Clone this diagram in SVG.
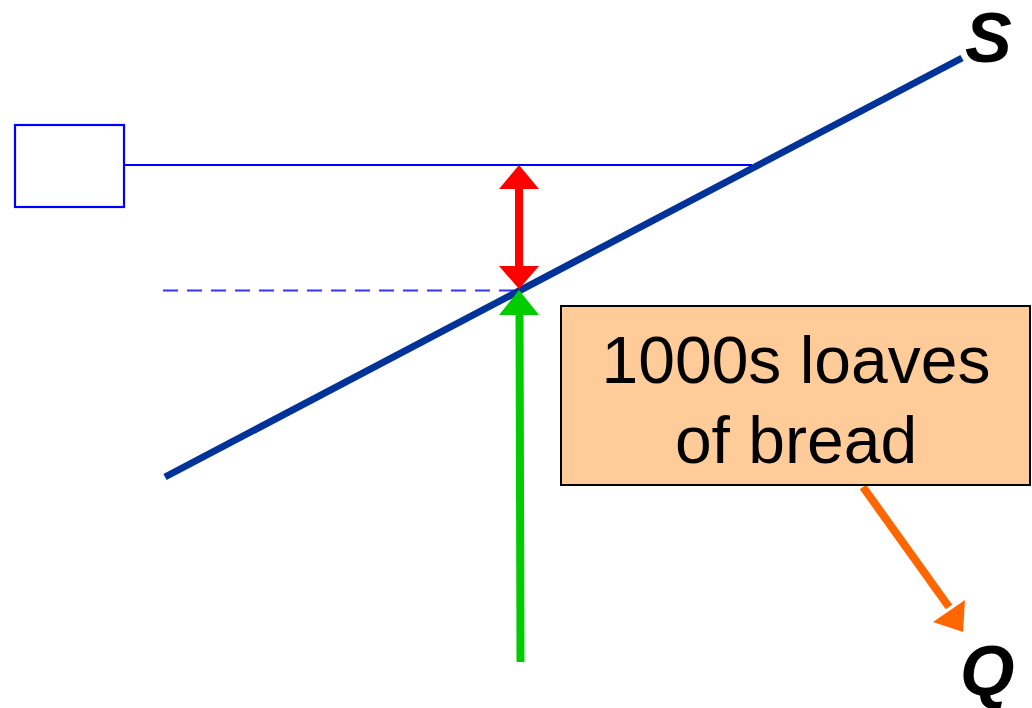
<svg xmlns="http://www.w3.org/2000/svg" width="1032" height="708" viewBox="0 0 1032 708">
<style>
.lbl{font-family:"Liberation Sans",Arial,sans-serif;fill:#000}
.axis{font-family:"Liberation Sans",Arial,sans-serif;font-weight:bold;font-style:italic;fill:#000}
</style>
<rect width="1032" height="708" fill="#fff"/>
<g id="connectors">
  <line x1="124" y1="165" x2="752" y2="165" stroke="#0000ff" stroke-width="2.2"/>
  <line x1="163" y1="290.5" x2="517" y2="290.5" stroke="#3333ff" stroke-width="2" stroke-dasharray="15,9"/>
  <line x1="165" y1="477" x2="962" y2="58" stroke="#003399" stroke-width="7"/>
  <g id="red-arrow" fill="#ff0000">
    <rect x="515" y="188" width="8" height="80"/>
    <polygon points="519,165 539,189 499,189"/>
    <polygon points="519,289 539,266 499,266"/>
  </g>
  <g id="green-arrow" fill="#00cc00">
    <line x1="520.5" y1="662" x2="519.5" y2="312" stroke="#00cc00" stroke-width="8"/>
    <polygon points="519,290 539,315 499,315"/>
  </g>
  <g id="orange-arrow" fill="#ff6600">
    <line x1="863" y1="487" x2="949" y2="607" stroke="#ff6600" stroke-width="8"/>
    <polygon points="963,632 933,622 965,600"/>
  </g>
</g>
<g id="empty-box">
  <rect x="15" y="125" width="109" height="82" fill="#fff" stroke="#0000ff" stroke-width="2.2"/>
</g>
<g id="label-box">
  <rect x="561" y="306" width="469" height="179" fill="#ffcc99" stroke="#000" stroke-width="2"/>
  <text class="lbl" x="796" y="383" font-size="66" text-anchor="middle">1000s loaves</text>
  <text class="lbl" x="796" y="463" font-size="66" text-anchor="middle">of bread</text>
</g>
<g id="label-S">
  <text class="axis" x="965" y="62" font-size="70">S</text>
</g>
<g id="label-Q">
  <text class="axis" x="960" y="695" font-size="70">Q</text>
</g>
</svg>
